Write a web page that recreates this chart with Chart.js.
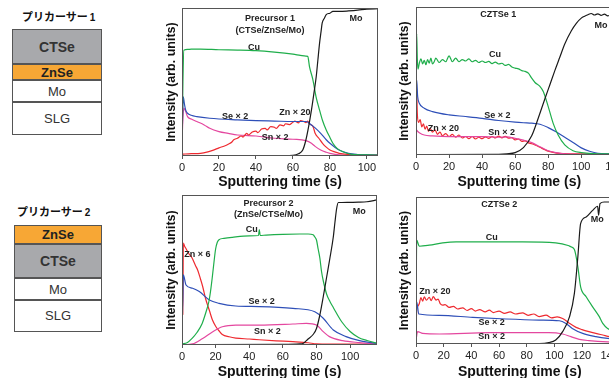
<!DOCTYPE html>
<html>
<head>
<meta charset="utf-8">
<script src="https://cdn.jsdelivr.net/npm/chart.js@4.4.1/dist/chart.umd.min.js"></script>
<style>
  html, body { margin: 0; padding: 0; background: #fff; }
  body { width: 609px; height: 378px; overflow: hidden; position: relative;
         font-family: "Liberation Sans", Arial, sans-serif; }
  .panel { position: absolute; }
  .title { position: absolute; font-family: "Noto Sans CJK JP", sans-serif; font-weight: 700;
           font-size: 11px; color: #111; white-space: nowrap; line-height: 1; }
  .title small { font-family: "Liberation Sans", Arial, sans-serif; font-size: 10px; margin-left: 2px; }
  .stack { position: absolute; border: 1.5px solid #555; box-sizing: border-box; display: flex; flex-direction: column; }
  .stack div { box-sizing: border-box; display: flex; align-items: center; justify-content: center;
               border-top: 2px solid #555; color: #333; font-size: 13px; }
  .stack div:first-child { border-top: none; }
  .gray { background: #a8a9ac; font-weight: 700; font-size: 14px !important; }
  .orange { background: #f7a735; font-weight: 700; color: #222 !important; }
</style>
</head>
<body>

<div class="title" style="left:22px;top:11px;">プリカーサー<small>1</small></div>
<div class="stack" style="left:12px;top:29px;width:90px;height:106px;">
  <div class="gray" style="height:33px;">CTSe</div>
  <div class="orange" style="height:16px;">ZnSe</div>
  <div style="height:22px;">Mo</div>
  <div style="height:32px;">SLG</div>
</div>

<div class="title" style="left:17px;top:206px;">プリカーサー<small>2</small></div>
<div class="stack" style="left:14px;top:225px;width:88px;height:107px;">
  <div class="orange" style="height:17px;">ZnSe</div>
  <div class="gray" style="height:34px;">CTSe</div>
  <div style="height:22px;">Mo</div>
  <div style="height:31px;">SLG</div>
</div>

<div class="panel" style="left:160px;top:0;width:222px;height:190px;"><canvas id="c1"></canvas></div>
<div class="panel" style="left:390px;top:0;width:240px;height:190px;"><canvas id="c2"></canvas></div>
<div class="panel" style="left:160px;top:190px;width:222px;height:190px;"><canvas id="c3"></canvas></div>
<div class="panel" style="left:390px;top:190px;width:240px;height:190px;"><canvas id="c4"></canvas></div>

<script>
// ---- Precursor 1 (CTSe/ZnSe/Mo) ----
const t1Cu = [0, 0.5, 1, 3, 5, 10, 20, 30, 40, 50, 60, 64, 67, 68, 69, 70.8, 72.5, 74.4, 76, 78, 80, 81.6, 84, 87, 92, 100, 106];
const v1Cu = [5, 50, 71.5, 72, 72.2, 72.2, 71.8, 71.6, 71.2, 70.2, 68.8, 68, 67.5, 67.3, 60, 51.5, 40, 31, 24, 17.6, 12.5, 8.6, 5, 2.9, 1.1, 0.7, 0.6];
const t1Mo = [0, 55, 60, 63, 65.3, 67, 68.5, 70, 71.3, 72.6, 73.5, 74.4, 75.2, 75.8, 77, 78, 80, 81.6, 85, 90, 95, 100, 106];
const v1Mo = [0.3, 0.3, 0.5, 1.5, 4, 10.8, 20, 31, 42, 53.7, 65, 76.3, 84, 89.8, 93, 95.5, 96.5, 97.7, 97.7, 98, 98.5, 99.3, 99.5];
const t1Se = [0, 0.3, 0.7, 1.2, 2, 3, 5, 8, 15, 30, 40, 50, 60, 67, 70, 72, 75, 78, 80, 85, 90, 95, 100, 106];
const v1Se = [8, 25, 40, 36, 31, 28.9, 27.5, 26.6, 25.5, 24.4, 23.9, 23.6, 23.3, 23.3, 21, 19, 15.3, 11, 8.6, 4, 1.8, 1, 0.7, 0.6];
const t1Sn = [0, 0.3, 1, 2, 3, 5, 8, 12, 15, 20, 25, 30, 40, 50, 60, 67, 70, 72, 75, 78, 80, 85, 90, 106];
const v1Sn = [7.4, 20, 32.3, 30, 26.6, 25, 23.3, 21, 18.7, 16.5, 15.3, 14.2, 13.5, 12, 11.3, 10.4, 8.6, 6.5, 4, 2.5, 1.8, 0.7, 0.5, 0.4];
const t1Zn = [0, 5, 10, 14, 17, 20, 23, 25, 27, 28, 30, 32, 33, 35, 36, 38, 40, 41, 43, 45, 46, 48, 50, 51, 53, 55, 56, 58, 60, 61, 63, 64, 66, 67, 68, 69, 70, 71, 72, 74, 76, 78, 80, 83, 85, 90, 95, 100, 106];
const v1Zn = [1.2, 1.6, 1.8, 2.8, 4, 5.5, 6.8, 8, 9.5, 11, 12, 13.5, 12.8, 15.3, 14.2, 16.2, 16.8, 15.8, 18.2, 18.7, 17.6, 19.8, 19.4, 18.6, 21, 20.4, 21.8, 21.2, 22.8, 23.5, 22.4, 24, 23.2, 22.6, 23.5, 21.5, 21, 19.5, 15.3, 12, 8.6, 6, 4, 2.6, 1.8, 1, 0.7, 0.6, 0.6];

// ---- CZTSe 1 ----
const t2Cu = [0, 0.4, 0.8, 1.2, 2, 3, 4, 5, 6, 7, 8, 9, 10, 11, 12, 14, 16, 18, 20, 22, 24, 26, 28, 30, 32, 34, 36, 38, 40, 42, 44, 46, 48, 50, 52, 54, 56, 58, 60, 62, 64, 66, 68, 70, 72, 75, 77, 80, 83, 86, 90, 95, 100, 110, 125];
const v2Cu = [10, 82, 65, 58, 62, 65, 61.5, 64, 61, 64.5, 62, 65.5, 61.5, 63, 65.5, 62.5, 64.5, 63, 67, 63, 65.5, 63, 64.5, 63.5, 65, 63, 64, 62.5, 63.5, 62.5, 63.2, 61.8, 62.8, 61.5, 62, 60.5, 61.2, 59.5, 58.7, 58.2, 57, 56.5, 55.3, 51.9, 49, 46.3, 42.9, 32.7, 21.4, 13.5, 6.8, 2.9, 1.6, 0.8, 0.7];
const t2Mo = [0, 50, 55, 60, 65, 70, 74, 78, 81, 84, 87, 90, 94, 97, 100, 102, 104, 106, 108, 110, 112, 114, 116, 118, 120, 125];
const v2Mo = [0.3, 0.5, 0.8, 1.6, 5, 13, 25, 38, 47.5, 57, 66, 75, 84, 89, 92.5, 93.8, 94.8, 95.6, 94.6, 95.4, 94.4, 95.2, 94, 94.6, 93.6, 93];
const t2Se = [0, 0.4, 1, 2, 5, 10, 20, 30, 40, 50, 60, 65, 70, 75, 80, 85, 90, 95, 100, 105, 110, 125];
const v2Se = [10, 50.8, 39.5, 35, 31.6, 29.3, 27.1, 26, 24.8, 23.3, 22.2, 21.8, 21.5, 20.8, 18.5, 15.5, 12, 8.5, 4.8, 2.5, 1.2, 0.7];
const t2Zn = [0, 0.3, 0.8, 1.5, 2.5, 3.5, 4.5, 5.5, 6.5, 7.5, 8.5, 10, 11.5, 13, 14.5, 16, 18, 20, 22, 24, 26, 28, 30, 32, 34, 36, 38, 40, 42, 44, 46, 48, 50, 52, 54, 56, 58, 60, 62, 64, 66, 68, 70, 72, 75, 78, 80, 85, 90, 100, 125];
const v2Zn = [5, 46, 28, 22, 24, 19, 21, 17.5, 19.5, 16, 18, 15.5, 17, 14, 15.5, 13, 14.5, 12.5, 14, 12, 13.5, 11.5, 12.5, 11, 12.5, 10.8, 12, 11, 12.3, 11.2, 12.5, 11.5, 12.8, 11.6, 12.6, 11.4, 11.8, 10.2, 10.8, 9.2, 9.6, 8.2, 7.6, 6.8, 5.2, 3.6, 2.6, 1.3, 0.9, 0.7, 0.6];
const t2Sn = [0, 0.4, 1, 2, 5, 10, 20, 30, 40, 50, 55, 60, 65, 70, 75, 80, 85, 90, 100, 125];
const v2Sn = [3, 16.9, 16, 15.1, 13.5, 12.9, 12.4, 12.4, 12.4, 12, 12.2, 11.2, 10, 8.4, 5.6, 2.9, 1.6, 0.7, 0.5, 0.4];

// ---- Precursor 2 (ZnSe/CTSe/Mo) ----
const t3Cu = [0, 3, 6, 9, 12, 14, 16, 17, 18, 19, 20, 21, 22, 25, 30, 40, 45.5, 46, 46.5, 50, 60, 70, 75, 78, 79, 80, 81, 82, 83, 84, 86, 88, 90, 95, 100, 105, 110, 116];
const v3Cu = [0.7, 1.5, 4.4, 8.5, 14.4, 21, 29, 36, 45, 55, 64, 68.5, 70.2, 71.1, 71.8, 72.7, 73, 77, 73, 73.3, 73.8, 74, 74, 73.5, 72, 70, 64, 58, 49, 43, 34, 29, 25, 15.5, 9, 5, 3, 1.1];
const t3Mo = [0, 60, 70, 72, 75, 78, 80, 82, 84, 86, 88, 90, 91, 92, 93, 95, 100, 105, 110, 116];
const v3Mo = [0.2, 0.4, 0.7, 1, 4, 7, 11, 20, 32, 45, 58, 72, 82, 91, 95, 95, 95.1, 95.2, 95.5, 96.7];
const t3Zn = [0, 0.3, 0.5, 0.8, 1.5, 2.5, 4, 6, 8, 9.3, 11, 12.3, 14, 16.3, 18, 20, 22, 24, 28, 32, 40, 46, 56, 66, 75, 80, 90, 116];
const v3Zn = [3, 52, 20, 68, 66, 64, 61, 58, 53, 50, 44, 39, 31, 23, 17, 12.5, 9.5, 7, 5.5, 4.6, 4, 3.5, 2.8, 2.2, 1.5, 0.8, 0.6, 0.5];
const t3Se = [0, 0.5, 0.8, 2.4, 6.3, 10.3, 16.3, 22, 32, 46, 66, 79, 84, 90, 97.6, 105.6, 116];
const v3Se = [12.2, 30, 46.7, 40, 37.8, 35.6, 30, 27.8, 26, 25.6, 24.4, 22.2, 17.8, 10, 5.6, 2.9, 1.1];
const t3Sn = [0, 6.3, 12.3, 18.3, 24, 32, 46, 66, 74, 80, 84, 87.7, 95.6, 105.6, 116];
const v3Sn = [0, 0.7, 4.4, 8.9, 12.2, 13.3, 13.3, 14, 14.4, 13.3, 8.9, 5.6, 2.9, 1.6, 0.7];

// ---- CZTSe 2 ----
const t4Cu = [0, 0.5, 2.4, 9.6, 19.3, 29, 53, 77, 101, 110, 112, 114.5, 117, 119, 123, 127.7, 132.5, 135, 138.5, 145, 150];
const v4Cu = [5, 70.6, 66.5, 67.2, 68.8, 69.5, 69.5, 69.5, 68.8, 67, 66.1, 64.3, 52.5, 38.9, 32.1, 25.3, 18.6, 14, 10.6, 8, 6];
const t4Mo = [0, 89, 96, 101, 106, 111, 114.5, 117, 119, 123, 127.7, 131.3, 132, 133, 136, 140, 150];
const v4Mo = [0.2, 0.3, 0.9, 2.7, 8.4, 18.6, 34.4, 59.3, 81.9, 86.4, 90.9, 93.7, 87.6, 95.5, 96.6, 96.6, 96.8];
const t4Zn = [0, 0.5, 1.5, 2.4, 3.5, 4.8, 6, 7.5, 9.6, 11, 12.5, 14.5, 16, 17.5, 19.3, 21, 24, 27, 30, 33.7, 37, 40, 43, 46, 50, 53, 56, 60, 64, 68, 72, 77, 81, 85, 89, 94, 98, 102, 106, 111, 115.7, 120, 125, 130, 135, 140, 150];
const v4Zn = [5, 23.1, 26, 27.6, 31.5, 29.2, 32, 29.8, 31.8, 29.5, 32.2, 29.9, 30.5, 27.5, 26.5, 26.8, 24.9, 25.6, 23.8, 24.6, 22.8, 24, 22.4, 23.4, 21.9, 23, 21.4, 22.4, 20.9, 21.8, 20.4, 21.2, 19.5, 20.4, 18.6, 19.6, 17.8, 18.5, 17.4, 14, 11.3, 9.8, 8.4, 7.2, 6.1, 5, 4.2];
const t4Se = [0, 0.5, 2, 17, 41, 65, 89, 103.6, 108.4, 113, 120.5, 130, 138.5, 150];
const v4Se = [5, 28.7, 20.4, 19.5, 18.1, 17, 16.3, 15.8, 14, 10.6, 7.2, 5, 3.8, 3];
const t4Sn = [0, 1.2, 4.8, 17, 53, 96, 106, 112, 118, 125, 138.5, 150];
const v4Sn = [2.7, 8.4, 7.2, 6.8, 7.7, 7.7, 6.8, 5, 3.2, 2.3, 1.4, 1.2];

const xTicks = [0, 20, 40, 60, 80, 100, 120, 140];

const COLORS = { Cu: "#1fae4b", Se: "#2e4fb8", Zn: "#ee2a30", Sn: "#e4479f", Mo: "#1a1a1a" };
const FONT = '"Liberation Sans", Arial, sans-serif';

function pts(t, v) {
  return t.map((x, i) => ({ x, y: v[i] }));
}

// draws plot frame + element labels inside the plot
function makeTags(items) {
  return {
    id: "tags",
    afterDatasetsDraw(chart) {
      const { ctx, chartArea: a, scales } = chart;
      ctx.save();
      ctx.strokeStyle = "#555";
      ctx.lineWidth = 1;
      ctx.strokeRect(a.left + 0.5, a.top + 0.5, a.right - a.left - 1, a.bottom - a.top - 1);
      ctx.fillStyle = "#222";
      ctx.font = "bold 9px " + FONT;
      ctx.textAlign = "center";
      ctx.textBaseline = "middle";
      items.forEach((it) => {
        ctx.fillText(it[0], scales.x.getPixelForValue(it[1]), scales.y.getPixelForValue(it[2]));
      });
      ctx.restore();
    },
  };
}

function dibujar(id, cfg) {
  const datasets = cfg.series.map(([name, t, v]) => ({
    label: name,
    data: pts(t, v),
    borderColor: COLORS[name],
    borderWidth: 1.2,
    pointRadius: 0,
    cubicInterpolationMode: "monotone",
    fill: false,
  }));

  return new Chart(document.getElementById(id), {
    type: "line",
    data: { datasets },
    plugins: [makeTags(cfg.tags)],
    options: {
      responsive: true,
      maintainAspectRatio: false,
      animation: false,
      events: [],
      layout: { padding: { top: cfg.padTop, right: cfg.padRight, left: 0, bottom: 0 } },
      plugins: { legend: { display: false }, tooltip: { enabled: false } },
      scales: {
        x: {
          type: "linear",
          min: 0,
          max: cfg.xmax,
          afterBuildTicks: (s) => { s.ticks = xTicks.filter((v) => v <= cfg.xmax).map((value) => ({ value })); },
          afterFit: (s) => { s.height = cfg.xh; },
          border: { display: false },
          grid: { drawOnChartArea: false, drawTicks: true, tickLength: 3, color: "#555" },
          ticks: { color: "#222", font: { family: FONT, size: 11 }, padding: 2, maxRotation: 0 },
          title: {
            display: true,
            text: "Sputtering time (s)",
            color: "#111",
            font: { family: FONT, size: 14, weight: "bold", lineHeight: 1 },
            padding: { top: 0, bottom: 1 },
          },
        },
        y: {
          min: 0,
          max: 100,
          afterFit: (s) => { s.width = cfg.yw; },
          border: { display: false },
          grid: { display: false },
          ticks: { display: false },
          title: {
            display: true,
            text: "Intensity (arb. units)",
            color: "#111",
            font: { family: FONT, size: 12.5, weight: "bold", lineHeight: 1 },
            padding: { top: cfg.yTitlePad, bottom: 0 },
          },
        },
      },
    },
  });
}

document.addEventListener("DOMContentLoaded", () => {
  dibujar("c1", {
    xmax: 106, yw: 22, padTop: 8, padRight: 4, xh: 34, yTitlePad: 5,
    series: [["Mo", t1Mo, v1Mo], ["Cu", t1Cu, v1Cu], ["Se", t1Se, v1Se], ["Zn", t1Zn, v1Zn], ["Sn", t1Sn, v1Sn]],
    tags: [["Precursor 1", 47.6, 93.2], ["(CTSe/ZnSe/Mo)", 47.6, 85.1], ["Cu", 38.9, 73.6], ["Mo", 94.1, 93.2],
           ["Se × 2", 28.7, 27], ["Zn × 20", 61.1, 29.7], ["Sn × 2", 50.3, 12.2]],
  });
  dibujar("c2", {
    xmax: 125, yw: 26, padTop: 7, padRight: 7.4, xh: 35, yTitlePad: 8.5,
    series: [["Mo", t2Mo, v2Mo], ["Cu", t2Cu, v2Cu], ["Se", t2Se, v2Se], ["Sn", t2Sn, v2Sn], ["Zn", t2Zn, v2Zn]],
    tags: [["CZTSe 1", 49.8, 94.6], ["Cu", 47.8, 67.6], ["Se × 2", 49.2, 27], ["Zn × 20", 16.5, 18],
           ["Sn × 2", 51.8, 15.1], ["Mo", 112, 87.8]],
  });
  dibujar("c3", {
    xmax: 116, yw: 22, padTop: 5, padRight: 5, xh: 35, yTitlePad: 5,
    series: [["Mo", t3Mo, v3Mo], ["Cu", t3Cu, v3Cu], ["Se", t3Se, v3Se], ["Sn", t3Sn, v3Sn], ["Zn", t3Zn, v3Zn]],
    tags: [["Precursor 2", 51.4, 94.4], ["(ZnSe/CTSe/Mo)", 51.4, 87.3], ["Cu", 41.5, 76.7], ["Mo", 105.5, 88.9],
           ["Zn × 6", 9.1, 60.4], ["Se × 2", 47.4, 28.9], ["Sn × 2", 50.8, 9.3]],
  });
  dibujar("c4", {
    xmax: 150, yw: 26, padTop: 7, padRight: 6.5, xh: 36, yTitlePad: 8.5,
    series: [["Mo", t4Mo, v4Mo], ["Cu", t4Cu, v4Cu], ["Se", t4Se, v4Se], ["Sn", t4Sn, v4Sn], ["Zn", t4Zn, v4Zn]],
    tags: [["CZTSe 2", 60.2, 94.6], ["Cu", 54.7, 72.6], ["Mo", 131, 84.4], ["Zn × 20", 13.7, 36],
           ["Se × 2", 54.7, 14.5], ["Sn × 2", 54.7, 5]],
  });
});
</script>
</body>
</html>
